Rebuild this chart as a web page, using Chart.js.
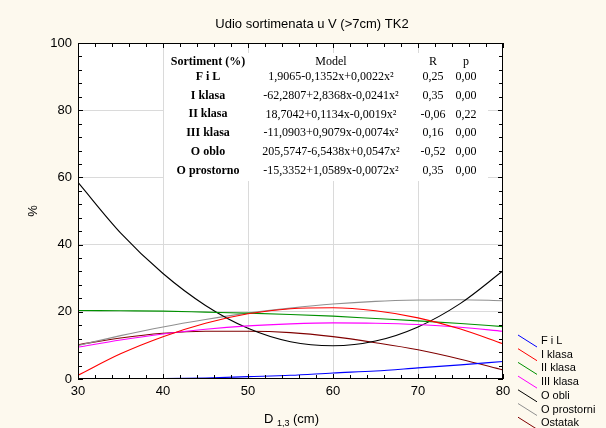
<!DOCTYPE html>
<html>
<head>
<meta charset="utf-8">
<script src="https://cdn.jsdelivr.net/npm/chart.js@4/dist/chart.umd.min.js"></script>
<style>
  html, body { margin: 0; padding: 0; background: #fdf9ee; }
</style>
</head>
<body>
<canvas id="myChart" width="606" height="428"></canvas>
<script>
// values, D 1,3 every 5 cm
const diameters = [30, 35, 40, 45, 50, 55, 60, 65, 70, 75, 80];
const fiL =        [0, 0, 0.1, 0.3, 0.7, 1.1, 1.8, 2.4, 3.3, 4.2, 5.2];
const iKlasa =     [1.1, 7.5, 12.6, 16.6, 19.4, 20.9, 21.2, 20.3, 18.2, 14.9, 10.5];
const iiKlasa =    [20.4, 20.3, 20.2, 19.9, 19.6, 19.2, 18.7, 18.0, 17.3, 16.5, 15.6];
const iiiKlasa =   [9.5, 11.6, 13.4, 14.8, 15.8, 16.4, 16.7, 16.6, 16.2, 15.4, 14.2];
const oObli =      [58.5, 43.5, 31.4, 21.9, 15.1, 11.1, 9.9, 11.3, 15.5, 22.5, 32.2];
const oProstorni = [10.0, 12.9, 15.5, 17.7, 19.6, 21.1, 22.3, 23.1, 23.5, 23.6, 23.3];
const ostatak =    [10.2, 12.2, 13.6, 14.2, 14.2, 13.8, 12.6, 10.8, 8.7, 5.9, 2.7];

const seriesNames = ['F i L', 'I klasa', 'II klasa', 'III klasa', 'O obli', 'O prostorni', 'Ostatak'];
const seriesColors = ['#0000ff', '#ff0000', '#009000', '#ff00ff', '#000000', '#909090', '#800000'];
const seriesValues = [fiL, iKlasa, iiKlasa, iiiKlasa, oObli, oProstorni, ostatak];

const xTicks = [30, 40, 50, 60, 70, 80];
const yTicks = [0, 20, 40, 60, 80, 100];

// table printed inside the plot
const tableHeader = ['Sortiment (%)', 'Model', 'R', 'p'];
const tableSort = ['F i L', 'I klasa', 'II klasa', 'III klasa', 'O oblo', 'O prostorno'];
const tableModel = [
    '1,9065-0,1352x+0,0022x²',
    '-62,2807+2,8368x-0,0241x²',
    '18,7042+0,1134x-0,0019x²',
    '-11,0903+0,9079x-0,0074x²',
    '205,5747-6,5438x+0,0547x²',
    '-15,3352+1,0589x-0,0072x²'
];
const tableR = ['0,25', '0,35', '-0,06', '0,16', '-0,52', '0,35'];
const tableP = ['0,00', '0,00', '0,22', '0,00', '0,00', '0,00'];

const chartTitle = 'Udio sortimenata u V (>7cm) TK2';
const sansFont = '"Liberation Sans", Arial, sans-serif';
const serifFont = '"Liberation Serif", "Times New Roman", serif';

const datasets = seriesNames.map((name, i) => ({
    label: name,
    data: diameters.map((d, j) => ({ x: d, y: seriesValues[i][j] })),
    borderColor: seriesColors[i],
    backgroundColor: seriesColors[i],
    borderWidth: 1.1,
    pointRadius: 0,
    fill: false,
    cubicInterpolationMode: 'monotone'
}));

const decorPlugin = {
    id: 'decor',
    beforeDraw(chart) {
        const { ctx, chartArea: a } = chart;
        ctx.save();
        ctx.fillStyle = '#fdf9ee';
        ctx.fillRect(0, 0, chart.width, chart.height);
        ctx.fillStyle = '#ffffff';
        ctx.fillRect(a.left, a.top, a.right - a.left, a.bottom - a.top);
        ctx.restore();
    },
    beforeDatasetsDraw(chart) {
        const ctx = chart.ctx;
        ctx.save();
        // white box behind the table hides the grid
        ctx.fillStyle = '#ffffff';
        ctx.fillRect(164, 53, 324, 128);
        ctx.fillStyle = '#000';
        ctx.textBaseline = 'middle';
        ctx.textAlign = 'center';
        const cols = [208, 331, 433, 466];
        ctx.font = 'bold 12px ' + serifFont;
        ctx.fillText(tableHeader[0], cols[0], 62);
        ctx.font = '12px ' + serifFont;
        for (let c = 1; c < 4; c++) ctx.fillText(tableHeader[c], cols[c], 62);
        for (let r = 0; r < tableSort.length; r++) {
            const y = 77 + r * 18.7;
            ctx.font = 'bold 12px ' + serifFont;
            ctx.fillText(tableSort[r], cols[0], y);
            ctx.font = '12px ' + serifFont;
            ctx.fillText(tableModel[r], cols[1], y);
            ctx.fillText(tableR[r], cols[2], y);
            ctx.fillText(tableP[r], cols[3], y);
        }
        ctx.restore();
    },
    afterDraw(chart) {
        const { ctx, chartArea: a, scales } = chart;
        ctx.save();
        // frame
        ctx.strokeStyle = '#000';
        ctx.lineWidth = 1;
        ctx.strokeRect(a.left + 0.5, a.top + 0.5, a.right - a.left - 1, a.bottom - a.top - 1);
        // inward ticks
        ctx.beginPath();
        for (let v = 0; v <= 100; v += 4) {
            const y = Math.round(scales.y.getPixelForValue(v)) + 0.5;
            const len = v % 20 === 0 ? 5 : 4;
            ctx.moveTo(a.left, y); ctx.lineTo(a.left + len, y);
            ctx.moveTo(a.right, y); ctx.lineTo(a.right - len, y);
        }
        for (let v = 30; v <= 80; v += 2) {
            const x = Math.round(scales.x.getPixelForValue(v)) + 0.5;
            const len = v % 10 === 0 ? 5 : 4;
            ctx.moveTo(x, a.bottom); ctx.lineTo(x, a.bottom - len);
            ctx.moveTo(x, a.top); ctx.lineTo(x, a.top + len);
        }
        ctx.stroke();

        // title
        ctx.fillStyle = '#000';
        ctx.textAlign = 'center';
        ctx.textBaseline = 'middle';
        ctx.font = '13px ' + sansFont;
        ctx.fillText(chartTitle, 312, 24);

        // y axis title
        ctx.save();
        ctx.translate(33, 211);
        ctx.rotate(-Math.PI / 2);
        ctx.fillText('%', 0, 0);
        ctx.restore();

        // x axis title with subscript
        ctx.textAlign = 'left';
        ctx.textBaseline = 'alphabetic';
        ctx.font = '13px ' + sansFont;
        ctx.fillText('D', 264, 423);
        ctx.font = '9px ' + sansFont;
        ctx.fillText('1,3', 277, 426);
        ctx.font = '13px ' + sansFont;
        ctx.fillText('(cm)', 293, 423);

        // legend
        ctx.font = '11px ' + sansFont;
        ctx.textBaseline = 'middle';
        chart.data.datasets.forEach((ds, i) => {
            const y = 341 + i * 13.7;
            ctx.strokeStyle = ds.borderColor;
            ctx.lineWidth = 1;
            ctx.beginPath();
            ctx.moveTo(518, y - 6);
            ctx.lineTo(537, y + 6);
            ctx.stroke();
            ctx.fillStyle = '#000';
            ctx.fillText(ds.label, 541, y);
        });
        ctx.restore();
    }
};

const gridColor = (ctx) => {
    const v = ctx.tick ? ctx.tick.value : null;
    const scale = ctx.scale;
    if (v === scale.min || v === scale.max) return 'rgba(0,0,0,0)';
    return '#dadada';
};

new Chart(document.getElementById('myChart'), {
    type: 'line',
    data: { datasets: datasets },
    options: {
        responsive: false,
        animation: false,
        devicePixelRatio: 1,
        layout: { padding: { top: 43, right: 103, left: 0, bottom: 0 } },
        plugins: {
            legend: { display: false },
            title: { display: false },
            tooltip: { enabled: false }
        },
        scales: {
            x: {
                type: 'linear',
                min: 30,
                max: 80,
                afterBuildTicks: (scale) => { scale.ticks = xTicks.map(v => ({ value: v })); },
                ticks: { color: '#000', font: { family: sansFont, size: 13 }, padding: 5, maxRotation: 0 },
                grid: { color: gridColor, drawTicks: false, lineWidth: 1 },
                border: { display: false },
                afterFit: (scale) => { scale.height = 49; }
            },
            y: {
                min: 0,
                max: 100,
                afterBuildTicks: (scale) => { scale.ticks = yTicks.map(v => ({ value: v })); },
                ticks: { color: '#000', font: { family: sansFont, size: 13 }, padding: 6 },
                grid: { color: gridColor, drawTicks: false, lineWidth: 1 },
                border: { display: false },
                afterFit: (scale) => { scale.width = 78; }
            }
        }
    },
    plugins: [decorPlugin]
});
</script>
</body>
</html>
